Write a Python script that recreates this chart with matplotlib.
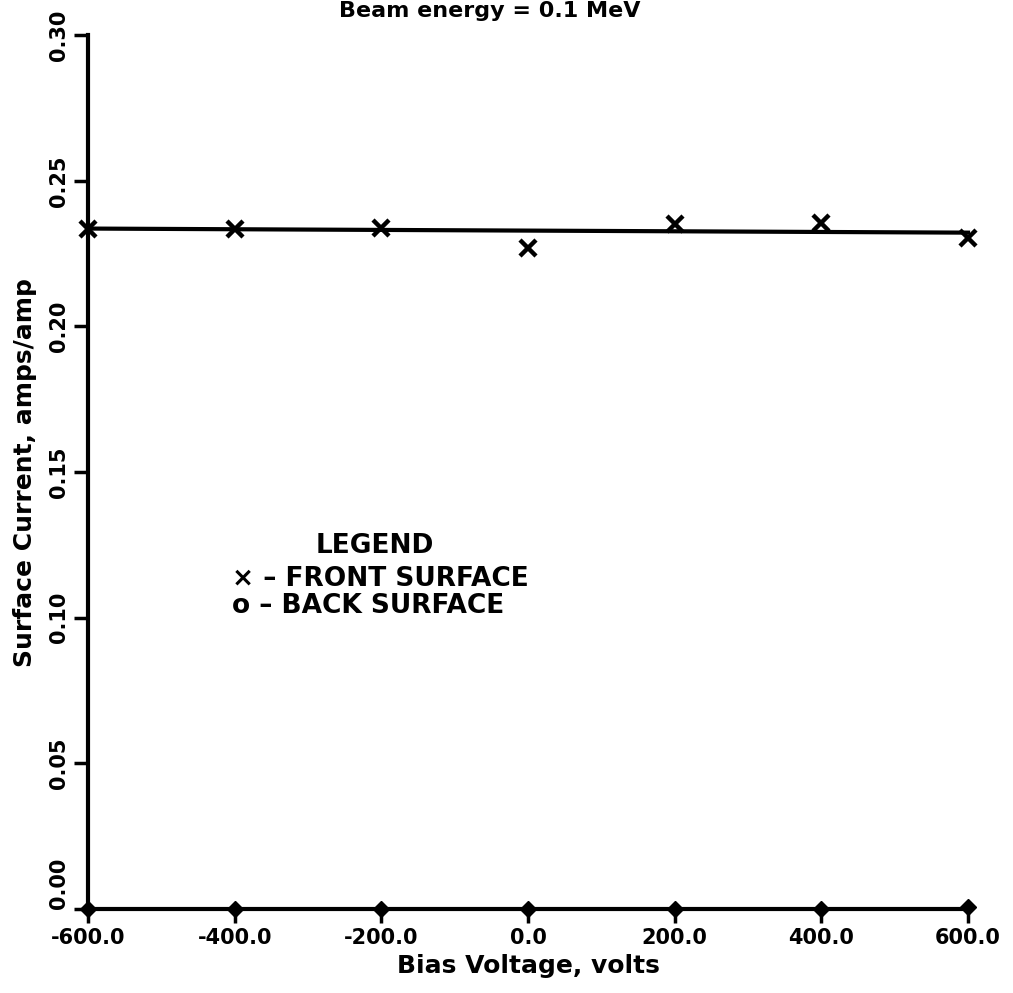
import matplotlib
matplotlib.use("Agg")
import matplotlib.pyplot as plt
import numpy as np

bias = [-600, -400, -200, 0, 200, 400, 600]
front = [0.2335, 0.2335, 0.2338, 0.2270, 0.2352, 0.2354, 0.2305]
back = [0.0, 0.0, 0.0, 0.0, 0.0, 0.0, 0.0008]
fit_x = [-600, 600]
fit_y = [0.2336, 0.2322]
xticks = [-600, -400, -200, 0, 200, 400, 600]
xticklabels = ["-600.0", "-400.0", "-200.0", "0.0", "200.0", "400.0", "600.0"]
yticks = [0.0, 0.05, 0.10, 0.15, 0.20, 0.25, 0.30]
yticklabels = ["0.00", "0.05", "0.10", "0.15", "0.20", "0.25", "0.30"]

fig = plt.figure(figsize=(10.13, 9.93), dpi=100)
ax = fig.add_axes([0.0869, 0.0846, 0.8687, 0.8800])
ax.set_xlim(-600, 600)
ax.set_ylim(0, 0.30)

ax.plot(fit_x, fit_y, color="black", lw=3, clip_on=False, zorder=3)
ax.plot(bias, front, linestyle="none", marker="x", ms=11, mew=3.2,
        color="black", clip_on=False, zorder=4)
ax.plot(bias, back, linestyle="none", marker="D", ms=8, mew=1,
        color="black", clip_on=False, zorder=4)

for s in ["top", "right"]:
    ax.spines[s].set_visible(False)
for s in ["left", "bottom"]:
    ax.spines[s].set_linewidth(3)

ax.set_xticks(xticks)
ax.set_xticklabels(xticklabels, fontsize=15, fontweight="bold")
ax.set_yticks(yticks)
ax.set_yticklabels(yticklabels, fontsize=15, fontweight="bold",
                   rotation=90, va="center")
ax.get_yticklabels()[0].set_va("bottom")
ax.tick_params(direction="out", length=10, width=2.5, pad=4)

ax.set_xlabel("Bias Voltage, volts", fontsize=18, fontweight="bold", labelpad=4)
ax.set_ylabel("Surface Current, amps/amp", fontsize=18, fontweight="bold", labelpad=8)

ax.text(-209, 0.1247, "LEGEND", fontsize=19, fontweight="bold", ha="center", va="center")
ax.text(-404, 0.1134, "\u00d7 \u2013 FRONT SURFACE", fontsize=19, fontweight="bold",
        ha="left", va="center")
ax.text(-404, 0.1041, "o \u2013 BACK SURFACE", fontsize=19, fontweight="bold",
        ha="left", va="center")

fig.text(0.483, 0.999, "Beam energy = 0.1 MeV", fontsize=16, fontweight="bold",
         ha="center", va="top")

fig.savefig("out.png", dpi=100, facecolor="white")
